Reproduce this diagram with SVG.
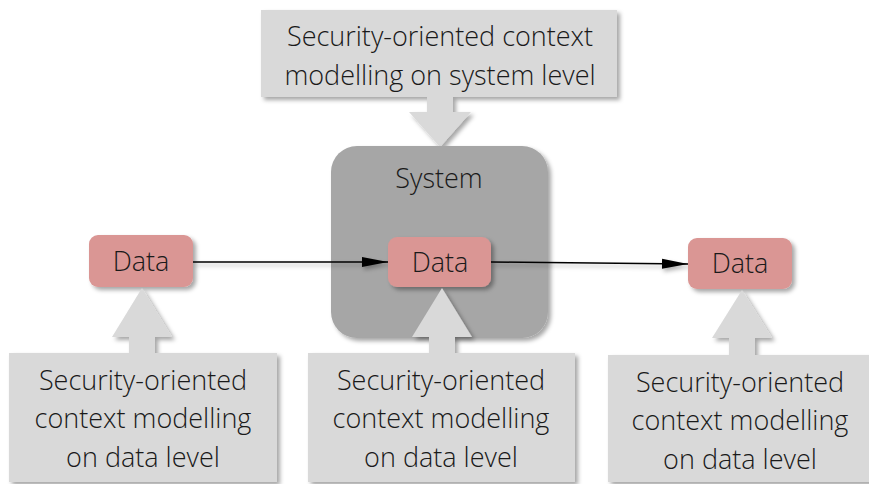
<svg xmlns="http://www.w3.org/2000/svg" width="869" height="484" viewBox="0 0 869 484">
  <defs>
    <filter id="shadow" x="-10%" y="-10%" width="130%" height="140%">
      <feDropShadow dx="3" dy="3" stdDeviation="2" flood-color="#000" flood-opacity="0.35"/>
    </filter>
    <!-- user-space region so flat horizontal lines still get a shadow -->
    <filter id="lineShadow" filterUnits="userSpaceOnUse" x="0" y="0" width="869" height="484">
      <feDropShadow dx="2" dy="3" stdDeviation="2" flood-color="#000" flood-opacity="0.3"/>
    </filter>
    <marker id="arrowHead" markerWidth="26" markerHeight="12" refX="26" refY="6" orient="auto" markerUnits="userSpaceOnUse">
      <path d="M0,1 L26,6 L0,11 Z" fill="#000"/>
    </marker>
    <style>
      .callout { fill: #d9d9d9; filter: url(#shadow); }
      .data { fill: #da9694; filter: url(#shadow); }
      .system { fill: #a6a6a6; filter: url(#shadow); }
      .label { font-family: "Open Sans", "Liberation Sans", sans-serif; font-weight: 300; fill: #1a1a1a; text-anchor: middle; }
      .big { font-size: 27px; }
      .mid { font-size: 27px; }
      .link { stroke: #000; stroke-width: 1.5; fill: none; marker-end: url(#arrowHead); filter: url(#lineShadow); }
    </style>
  </defs>

  <rect width="869" height="484" fill="#fff"/>

  <!-- System-level context: callout pointing down into the system -->
  <g id="ctx-system">
    <path class="callout" d="M261,10 H617 V97 H453 V112 H471 L440,147 L409,112 H427 V97 H261 Z"/>
    <text class="label big" x="440" y="46">Security-oriented context</text>
    <text class="label big" x="440" y="85">modelling on system level</text>
  </g>

  <!-- System container -->
  <g id="system">
    <rect class="system" x="331" y="146" width="217" height="192" rx="26" ry="26"/>
    <text class="label mid" x="439" y="188">System</text>
  </g>

  <!-- Connectors between data items -->
  <g id="connectors">
    <path class="link" d="M193,262 L388,262"/>
    <path class="link" d="M491,262 L688,264"/>
  </g>

  <!-- Data items -->
  <g id="data-left">
    <rect class="data" x="89" y="235" width="104" height="52" rx="9" ry="9"/>
    <text class="label mid" x="141" y="271">Data</text>
  </g>
  <g id="data-center">
    <rect class="data" x="388" y="237" width="103" height="50" rx="9" ry="9"/>
    <text class="label mid" x="440" y="272">Data</text>
  </g>
  <g id="data-right">
    <rect class="data" x="688" y="238" width="104" height="51" rx="9" ry="9"/>
    <text class="label mid" x="740" y="273">Data</text>
  </g>

  <!-- Data-level context callouts pointing up -->
  <g id="ctx-data-left">
    <path class="callout" d="M9,353 H129 V337 H112 L142,288 L172,337 H155 V353 H277 V482 H9 Z"/>
    <text class="label big" x="143" y="390">Security-oriented</text>
    <text class="label big" x="143" y="428">context modelling</text>
    <text class="label big" x="143" y="467">on data level</text>
  </g>
  <g id="ctx-data-center">
    <path class="callout" d="M308,353 H429 V337 H412 L442,288 L472,337 H455 V353 H575 V482 H308 Z"/>
    <text class="label big" x="441" y="390">Security-oriented</text>
    <text class="label big" x="441" y="428">context modelling</text>
    <text class="label big" x="441" y="467">on data level</text>
  </g>
  <g id="ctx-data-right">
    <path class="callout" d="M608,355 H729 V338 H712 L742,290 L772,338 H755 V355 H872 V482 H608 Z"/>
    <text class="label big" x="740" y="392">Security-oriented</text>
    <text class="label big" x="740" y="430">context modelling</text>
    <text class="label big" x="740" y="469">on data level</text>
  </g>
</svg>
